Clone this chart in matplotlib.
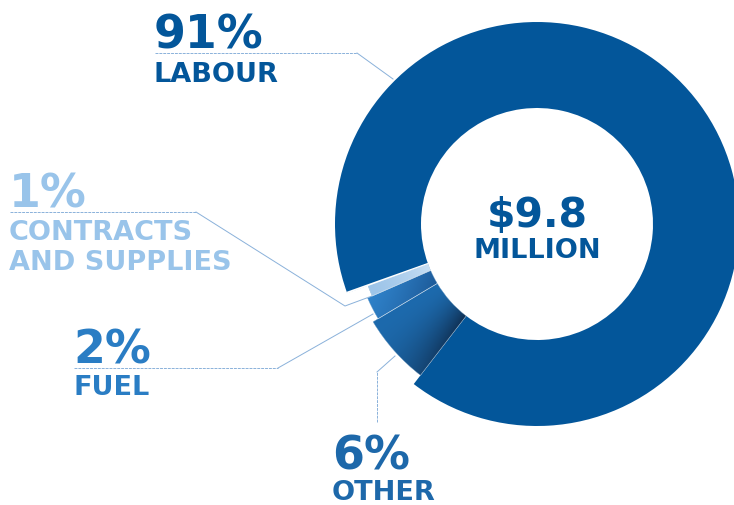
import numpy as np
import matplotlib
matplotlib.use('Agg')
import matplotlib.pyplot as plt
from matplotlib.patches import Wedge
from matplotlib.colors import to_rgb

# spending breakdown
categories = ['LABOUR', 'CONTRACTS\nAND SUPPLIES', 'FUEL', 'OTHER']
shares = [91, 1, 2, 6]
total_label = ['$9.8', 'MILLION']

W, H = 734, 506
CX, CY = 537, H - 225          # ring centre (pixels, y up)
R_IN = 116
R_OUT = [202, 180, 185, 191]   # small slices sit a little inside the big one
SPLIT = 200                    # angle where labour meets the small slices

DARK = '#03569a'
LINE = '#8ab1da'

fig = plt.figure(figsize=(W / 100, H / 100), dpi=100)
ax = fig.add_axes([0, 0, 1, 1])
ax.set_xlim(0, W)
ax.set_ylim(0, H)
ax.set_aspect('equal')
ax.axis('off')

fracs = np.array(shares) / sum(shares) * 360.0

# labour runs clockwise from the split, the rest counter-clockwise
angles = [(SPLIT - fracs[0], SPLIT)]
a = SPLIT
for f in fracs[1:]:
    angles.append((a, a + f))
    a += f

# gradient colours for the small slices: (light, dark)
grads = {
    1: ('#9ec5e9', '#c6def3'),
    2: ('#2f82ca', '#1d5a98'),
    3: ('#1d6aad', '#0f2f52'),
}


def shade(i, t1, t2, r_out):
    light = np.array(to_rgb(grads[i][0]))
    dark = np.array(to_rgb(grads[i][1]))
    x0, x1 = CX - r_out - 2, CX
    y0, y1 = CY - r_out - 2, CY
    xs, ys = np.meshgrid(np.arange(x0, x1) + 0.5, np.arange(y0, y1) + 0.5)
    rho = np.hypot(xs - CX, ys - CY)
    th = np.degrees(np.arctan2(ys - CY, xs - CX)) % 360
    u = np.clip((th - t1) / (t2 - t1), 0, 1)
    v = np.clip((rho - R_IN) / (r_out - R_IN), 0, 1)
    if i == 1:
        f = (1 - v) ** 1.5
    elif i == 2:
        f = 0.75 * (1 - v) ** 1.3 + 0.25 * u
    else:
        f = u ** 2.0 * (1 - 0.4 * v)
    img = light + (dark - light) * f[..., None]
    return img, (x0, x1, y0, y1)


for i, (t1, t2) in enumerate(angles):
    r = R_OUT[i]
    w = Wedge((CX, CY), r, t1, t2, width=r - R_IN, facecolor=DARK,
              edgecolor='none', zorder=2)
    ax.add_patch(w)
    if i:
        img, ext = shade(i, t1, t2, r)
        im = ax.imshow(img, extent=ext, origin='lower', zorder=3,
                       interpolation='bilinear')
        im.set_clip_path(w)
        # thin light seam between the small slices
        ax.add_patch(Wedge((CX, CY), r, t1, t2, width=r - R_IN,
                           facecolor='none', edgecolor='white', lw=0.4,
                           alpha=0.6, zorder=4))

# white gap where labour starts
ax.add_patch(Wedge((CX, CY), R_OUT[0], SPLIT - 0.4, SPLIT + 0.15,
                   width=R_OUT[0] - R_IN, facecolor='white',
                   edgecolor='none', zorder=4))

ax.set_xlim(0, W)
ax.set_ylim(0, H)

# leader lines (y measured from the top)
leaders = [
    [(155, 54), (357, 54), (393, 80)],
    [(10, 213), (196, 213), (345, 307), (372, 297)],
    [(74, 369), (278, 369), (373, 315)],
    [(377, 423), (377, 373), (395, 357)],
]
for pts in leaders:
    xs = [p[0] for p in pts]
    ys = [H - p[1] for p in pts]
    ax.plot(xs[:2], ys[:2], color=LINE, lw=0.7, ls=(0, (3, 1)), zorder=1)
    ax.plot(xs[1:], ys[1:], color=LINE, lw=0.7, zorder=1)

font = dict(family='DejaVu Sans', weight='bold')
text_colors = [DARK, '#99c4ea', '#2a7dc4', '#1d68aa']
# (x, baseline of percent, baseline of first label line)
spots = [(154, 48, 82), (9, 207, 240), (73, 363, 395), (332, 470, 500)]

for cat, s, col, (x, yp, yl) in zip(categories, shares, text_colors, spots):
    ax.text(x, H - yp, '{}%'.format(s), color=col, fontsize=33,
            ha='left', va='baseline', **font)
    for k, line in enumerate(cat.split('\n')):
        ax.text(x, H - yl - 30 * k, line, color=col, fontsize=19.5,
                ha='left', va='baseline', **font)

ax.text(CX, H - 227, total_label[0], color=DARK, fontsize=29.5,
        ha='center', va='baseline', **font)
ax.text(CX, H - 258, total_label[1], color=DARK, fontsize=19.5,
        ha='center', va='baseline', **font)

plt.savefig('out.png', dpi=100, facecolor='white')
